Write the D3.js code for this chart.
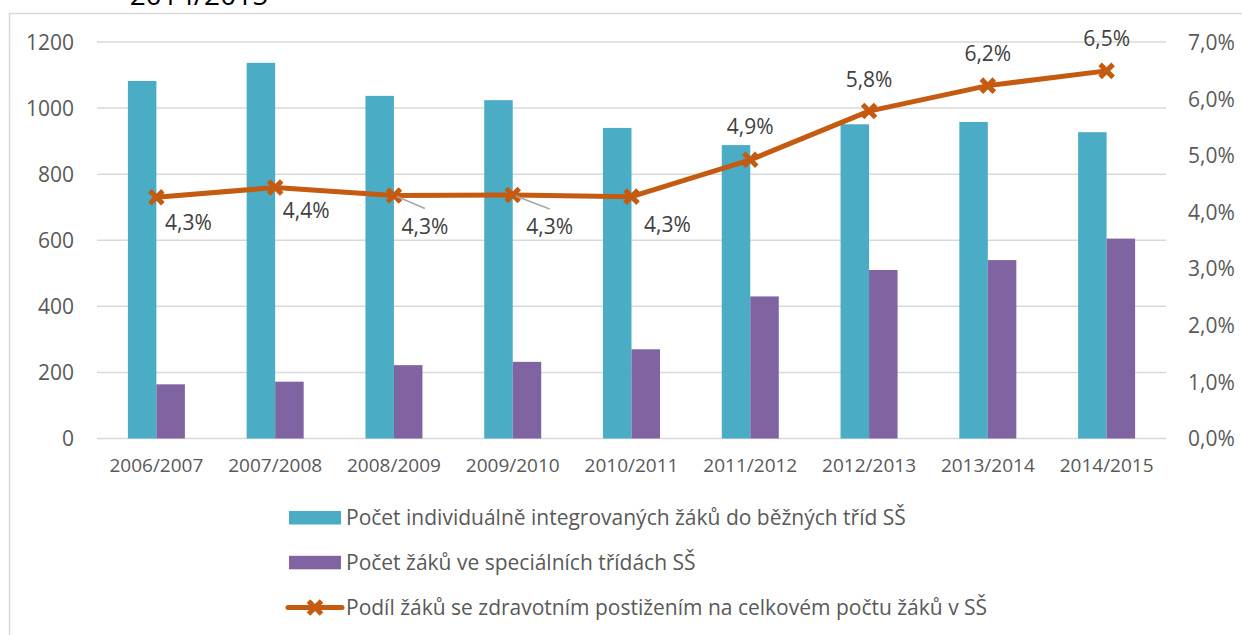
<!DOCTYPE html>
<html>
<head>
<meta charset="utf-8">
<script src="https://cdn.jsdelivr.net/npm/d3@7"></script>
<style>
  body { margin: 0; background: #fff; }
  svg { display: block; font-family: "Open Sans", sans-serif; }
</style>
</head>
<body>
<script>
// school years on the x axis
var years = ["2006/2007", "2007/2008", "2008/2009", "2009/2010", "2010/2011",
             "2011/2012", "2012/2013", "2013/2014", "2014/2015"];

// counts of pupils (left axis)
var integrated = [1082, 1137, 1037, 1024, 940, 888, 951, 958, 927];
var special = [164, 172, 222, 232, 270, 430, 510, 540, 605];

// share of pupils with disabilities (right axis)
var share = [0.0426, 0.0443, 0.0429, 0.0430, 0.0427, 0.0492, 0.0578, 0.0623, 0.0649];

var leftTicks = [0, 200, 400, 600, 800, 1000, 1200];
var rightTicks = [0, 0.01, 0.02, 0.03, 0.04, 0.05, 0.06, 0.07];

var legendLabels = [
    "Počet individuálně integrovaných žáků do běžných tříd SŠ",
    "Počet žáků ve speciálních třídách SŠ",
    "Podíl žáků se zdravotním postižením na celkovém počtu žáků v SŠ"
];

// where each data label sits relative to its marker (dx, dy), leader = draw gray line
var labelPos = [
    { dx: 32, dy: 25 }, { dx: 31, dy: 23 }, { dx: 31, dy: 31, leader: true },
    { dx: 37, dy: 32, leader: true }, { dx: 36, dy: 28 }, { dx: 0, dy: -33 },
    { dx: 0, dy: -31 }, { dx: 0, dy: -32 }, { dx: 0, dy: -32 }
];

var teal = "#4bacc6", purple = "#8064a2", orange = "#c55a11", grey = "#595959";

var W = 1242, H = 635;
var plot = { left: 97, right: 1166, top: 42, bottom: 438.5 };

var locale = d3.formatLocale({ decimal: ",", thousands: " ", grouping: [3], currency: ["", " Kč"] });
var pct = locale.format(".1%");

var svg = d3.select("body").append("svg")
    .attr("width", W)
    .attr("height", H);

// caption cut off above the chart
svg.append("text")
    .attr("x", 199).attr("y", 5)
    .attr("text-anchor", "middle")
    .style("font-size", "28px")
    .style("fill", "#000")
    .text("2014/2015");

// chart frame
svg.append("rect")
    .attr("x", 9.5).attr("y", 13.5)
    .attr("width", 1300).attr("height", 700)
    .attr("fill", "none")
    .attr("stroke", "#d9d9d9")
    .attr("stroke-width", 1.5);

var x = d3.scaleBand()
    .domain(years)
    .range([plot.left, plot.right]);

var groupW = 57;
var x1 = d3.scaleBand()
    .domain(["integrated", "special"])
    .range([-groupW / 2, groupW / 2]);

var y = d3.scaleLinear()
    .domain([0, 1200])
    .range([plot.bottom, plot.top]);

var y2 = d3.scaleLinear()
    .domain([0, 0.07])
    .range([plot.bottom, plot.top]);

// gridlines
svg.append("g")
    .selectAll("line")
    .data(leftTicks)
    .enter().append("line")
    .attr("x1", plot.left).attr("x2", plot.right)
    .attr("y1", function(d) { return y(d); })
    .attr("y2", function(d) { return y(d); })
    .attr("stroke", "#d9d9d9")
    .attr("stroke-width", 1.5);

// left axis
var yAxis = d3.axisLeft(y).tickValues(leftTicks).tickSize(0).tickPadding(0).tickFormat(d3.format("d"));
svg.append("g")
    .attr("transform", "translate(74,0)")
    .call(yAxis)
    .call(function(g) { g.select(".domain").remove(); })
    .selectAll("text")
    .attr("dy", "0.35em")
    .style("font-size", "21px")
    .style("font-family", "Open Sans")
    .style("fill", grey);

// right axis
var yAxis2 = d3.axisRight(y2).tickValues(rightTicks).tickSize(0).tickPadding(0).tickFormat(pct);
svg.append("g")
    .attr("transform", "translate(1188,0)")
    .call(yAxis2)
    .call(function(g) { g.select(".domain").remove(); })
    .selectAll("text")
    .attr("dy", "0.35em")
    .style("font-size", "21px")
    .style("font-family", "Open Sans")
    .style("fill", grey);

// bottom axis
var xAxis = d3.axisBottom(x).tickSize(0).tickPadding(0);
svg.append("g")
    .attr("transform", "translate(0,472)")
    .call(xAxis)
    .call(function(g) { g.select(".domain").remove(); })
    .selectAll("text")
    .attr("dy", "0")
    .style("font-size", "19px")
    .style("font-family", "Open Sans")
    .style("fill", grey);

// bars
var groups = svg.append("g")
    .selectAll("g")
    .data(years)
    .enter().append("g")
    .attr("transform", function(d) { return "translate(" + (x(d) + x.bandwidth() / 2) + ",0)"; });

groups.append("rect")
    .attr("x", x1("integrated"))
    .attr("width", x1.bandwidth())
    .attr("y", function(d, i) { return y(integrated[i]); })
    .attr("height", function(d, i) { return y(0) - y(integrated[i]); })
    .attr("fill", teal);

groups.append("rect")
    .attr("x", x1("special"))
    .attr("width", x1.bandwidth())
    .attr("y", function(d, i) { return y(special[i]); })
    .attr("height", function(d, i) { return y(0) - y(special[i]); })
    .attr("fill", purple);

// share line
var cx = function(d, i) { return x(years[i]) + x.bandwidth() / 2; };
var line = d3.line()
    .x(cx)
    .y(function(d) { return y2(d); });

svg.append("path")
    .datum(share)
    .attr("d", line)
    .attr("fill", "none")
    .attr("stroke", orange)
    .attr("stroke-width", 5)
    .attr("stroke-linejoin", "round");

function cross(s) {
    return "M" + (-s) + "," + (-s) + "L" + s + "," + s + "M" + (-s) + "," + s + "L" + s + "," + (-s);
}

svg.append("g")
    .selectAll("path")
    .data(share)
    .enter().append("path")
    .attr("transform", function(d, i) { return "translate(" + cx(d, i) + "," + y2(d) + ")"; })
    .attr("d", cross(6.5))
    .attr("stroke", orange)
    .attr("stroke-width", 5)
    .attr("fill", "none");

// data labels (+ leader lines where the label was dragged away)
share.forEach(function(d, i) {
    var p = labelPos[i];
    var px = cx(d, i), py = y2(d);
    if (p.leader) {
        svg.append("line")
            .attr("x1", px + 3).attr("y1", py + 1)
            .attr("x2", px + p.dx).attr("y2", py + p.dy - 18)
            .attr("stroke", "#a6a6a6")
            .attr("stroke-width", 1.5);
    }
    svg.append("text")
        .attr("x", px + p.dx)
        .attr("y", py + p.dy)
        .attr("dy", "0.35em")
        .attr("text-anchor", "middle")
        .style("font-size", "21px")
        .style("fill", "#404040")
        .text(pct(d));
});

// legend
var legend = svg.append("g")
    .selectAll("g")
    .data(legendLabels)
    .enter().append("g")
    .attr("transform", function(d, i) { return "translate(0," + (518 + i * 44.8) + ")"; });

legend.each(function(d, i) {
    var g = d3.select(this);
    if (i < 2) {
        g.append("rect")
            .attr("x", 289).attr("y", -7)
            .attr("width", 52).attr("height", 13.5)
            .attr("fill", i === 0 ? teal : purple);
    } else {
        g.append("line")
            .attr("x1", 288).attr("x2", 342)
            .attr("stroke", orange)
            .attr("stroke-width", 5)
            .attr("stroke-linecap", "round");
        g.append("path")
            .attr("transform", "translate(315,0)")
            .attr("d", cross(6.5))
            .attr("stroke", orange)
            .attr("stroke-width", 5)
            .attr("fill", "none");
    }
    g.append("text")
        .attr("x", 346)
        .attr("dy", "0.35em")
        .style("font-size", "21px")
        .style("fill", grey)
        .text(d);
});
</script>
</body>
</html>
